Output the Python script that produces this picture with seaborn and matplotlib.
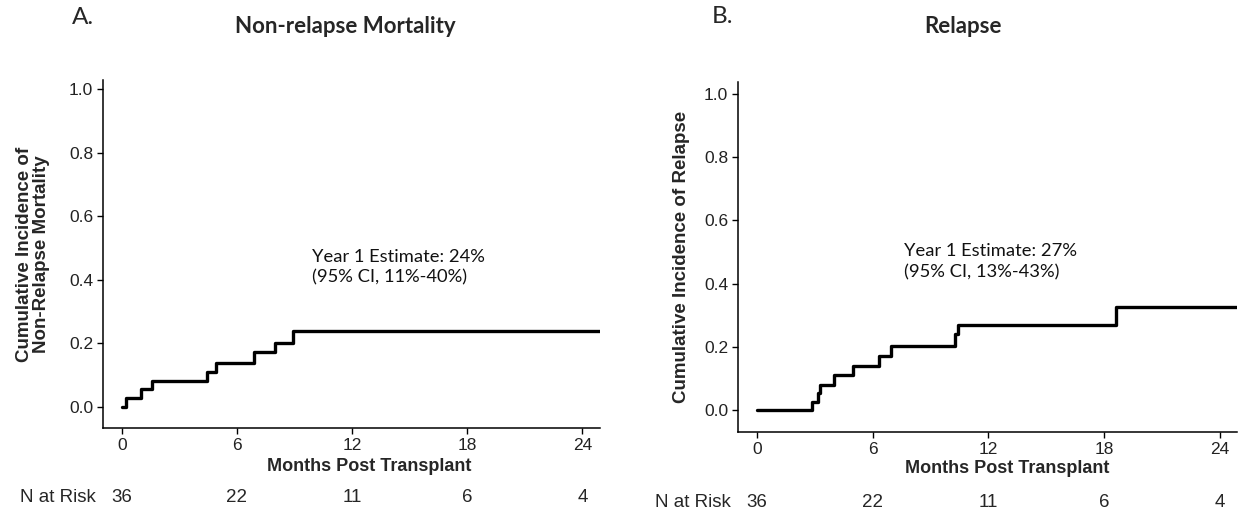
import matplotlib
matplotlib.use('Agg')
import matplotlib.pyplot as plt
import matplotlib.transforms as mtransforms
import numpy as np
import pandas as pd
import seaborn as sns

# cumulative incidence curves
nrm_months = [0, 0.2, 1.0, 1.6, 4.45, 4.93, 6.9, 8.0, 8.9, 24.9]
nrm_ci = [0, 0.028, 0.056, 0.083, 0.111, 0.139, 0.172, 0.203, 0.24, 0.24]
rel_months = [0, 2.84, 3.15, 3.3, 4.0, 5.0, 6.36, 6.95, 10.3, 10.45, 18.6, 24.9]
rel_ci = [0, 0.026, 0.053, 0.079, 0.11, 0.14, 0.172, 0.203, 0.239, 0.27, 0.327, 0.327]

risk_months = [0, 6, 12, 18, 24]
n_at_risk = [36, 22, 11, 6, 4]

sns.set_style('ticks')
plt.rcParams['font.family'] = ['Liberation Sans', 'DejaVu Sans']

fig = plt.figure(figsize=(12.42, 5.15), dpi=100)
axA = fig.add_axes([0.0829, 0.169, 0.400, 0.676])
axB = fig.add_axes([0.594, 0.161, 0.402, 0.680])

panels = [
    (axA, nrm_months, nrm_ci, 'Cumulative Incidence of\nNon-Relapse Mortality',
     'Year 1 Estimate: 24%\n(95% CI, 11%-40%)', (9.9, 0.44), (-0.98, 24.9), (-0.066, 1.03),
     (-0.107, 0.5), (0.535, -0.086)),
    (axB, rel_months, rel_ci, 'Cumulative Incidence of Relapse',
     'Year 1 Estimate: 27%\n(95% CI, 13%-43%)', (7.64, 0.47), (-0.99, 24.9), (-0.07, 1.038),
     (-0.096, 0.5), (0.539, -0.08)),
]

for ax, t, ci, ylab, note, notepos, xl, yl, ylc, xlc in panels:
    df = pd.DataFrame({'months': t, 'ci': ci})
    sns.lineplot(data=df, x='months', y='ci', ax=ax, color='black', lw=2.4,
                 drawstyle='steps-post', estimator=None)
    ax.set_xlim(*xl)
    ax.set_ylim(*yl)
    ax.set_xticks([0, 6, 12, 18, 24])
    ax.set_yticks(np.arange(0, 1.01, 0.2))
    ax.set_yticklabels([f'{v:.1f}' for v in np.arange(0, 1.01, 0.2)])
    ax.tick_params(labelsize=12.5, length=4, width=1, colors='black', labelcolor='#222222', pad=3)
    for s in ['top', 'right']:
        ax.spines[s].set_visible(False)
    for s in ['left', 'bottom']:
        ax.spines[s].set_linewidth(1.1)
        ax.spines[s].set_color('black')
    ax.set_xlabel('Months Post Transplant', fontsize=13, fontweight='bold')
    ax.set_ylabel(ylab, fontsize=13.5, fontweight='bold', linespacing=1.0)
    ax.yaxis.set_label_coords(*ylc)
    ax.xaxis.set_label_coords(*xlc)
    ax.text(notepos[0], notepos[1], note, fontsize=13.2, family=['Lato', 'DejaVu Sans'],
            ha='left', va='center', linespacing=1.4, color='#111111')
    trans = mtransforms.blended_transform_factory(ax.transData, ax.transAxes)
    for m, n in zip(risk_months, n_at_risk):
        ax.text(m, -0.2, str(n), transform=trans, ha='center', va='center', fontsize=13.5)
    ax.text(-1.35, -0.2, 'N at Risk', transform=trans, ha='right', va='center', fontsize=13.5)

fig.text(0.058, 0.966, 'A.', fontsize=17.5, family=['Lato', 'DejaVu Sans'], va='center')
fig.text(0.278, 0.948, 'Non-relapse Mortality', fontsize=16, fontweight='bold',
         family=['Lato', 'DejaVu Sans'], ha='center', va='center')
fig.text(0.573, 0.967, 'B.', fontsize=17.5, family=['Lato', 'DejaVu Sans'], va='center')
fig.text(0.775, 0.948, 'Relapse', fontsize=16, fontweight='bold',
         family=['Lato', 'DejaVu Sans'], ha='center', va='center')

fig.savefig('out.png', dpi=100)
